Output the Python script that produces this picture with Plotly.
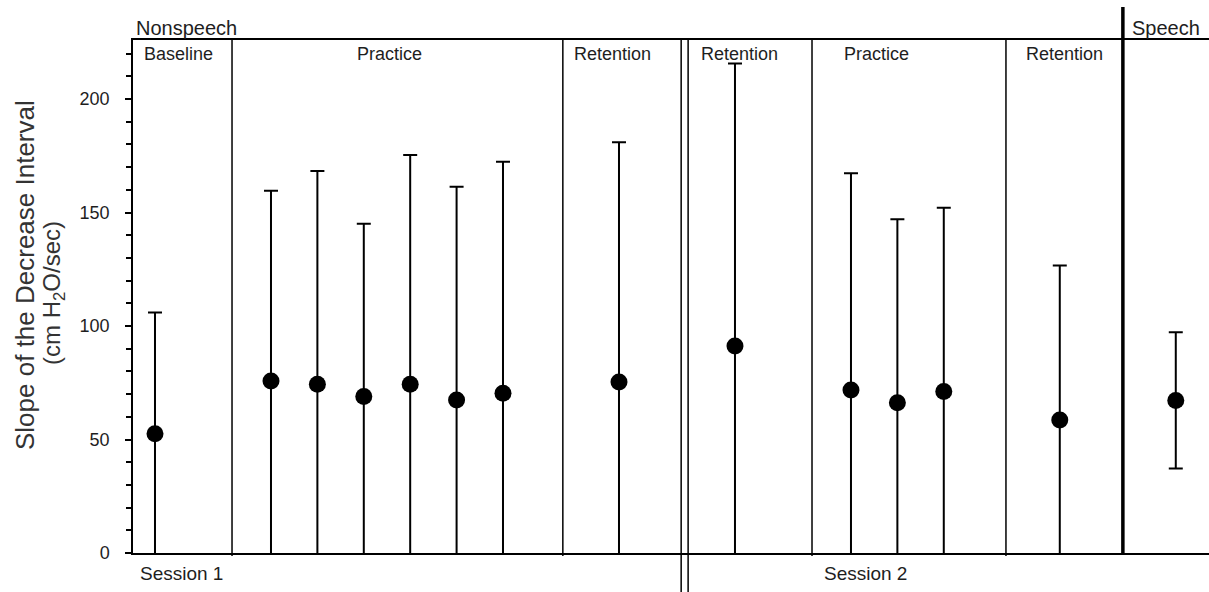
import plotly.graph_objects as go

# Mean slope of the decrease interval (cm H2O/sec) with standard deviations
conditions = [
    "Baseline",
    "Practice 1", "Practice 2", "Practice 3", "Practice 4", "Practice 5", "Practice 6",
    "Retention 1",
    "Retention 2",
    "Practice 7", "Practice 8", "Practice 9",
    "Retention 3",
    "Speech",
]
means = [52.5, 75.8, 74.3, 68.9, 74.3, 67.4, 70.4, 75.3, 91.2, 71.8, 66.2, 71.1, 58.6, 67.2]
sds = [53.5, 83.8, 94.0, 76.1, 101.0, 94.0, 102.0, 105.6, 124.5, 95.5, 80.8, 81.0, 68.1, 30.0]

# horizontal slot of each condition along the time line
slots = [0, 2.5, 3.5, 4.5, 5.5, 6.5, 7.5, 10, 12.5, 15, 16, 17, 19.5, 22]

# phase labels inside the frame and their centre slots
phase_labels = ["Baseline", "Practice", "Retention", "Retention", "Practice", "Retention"]
phase_centres = [0.5, 5.05, 9.85, 12.6, 15.55, 19.6]

# boundaries between phases
phase_breaks = [1.66, 8.79, 14.16, 18.34]
session_break = [11.34, 11.49]
speech_break = 20.86

y_ticks = [0, 50, 100, 150, 200]

W, H = 1209, 592
L, R, T, B = 133, 0, 40, 39
X_RANGE = [-0.474, 22.716]
Y_RANGE = [0, 226]
FONT = "Liberation Sans, Arial, sans-serif"
INK = "#1e1e1e"

plot_w = W - L - R
plot_h = H - T - B


def px(p):
    """paper x for a pixel column"""
    return (p - L) / plot_w


def py(p):
    """paper y for a pixel row"""
    return (H - B - p) / plot_h


fig = go.Figure()
fig.add_trace(go.Scatter(
    x=slots, y=means, mode="markers", text=conditions,
    marker=dict(size=17, color="black", line=dict(width=0)),
    error_y=dict(type="data", array=sds, symmetric=True, color="black",
                 thickness=2, width=7),
    showlegend=False, cliponaxis=True,
))

shapes = []
for xb in phase_breaks:
    shapes.append(dict(type="line", xref="x", yref="paper", x0=xb, x1=xb,
                       y0=py(556), y1=1, line=dict(color="black", width=1.5)))
for xb in session_break:
    shapes.append(dict(type="line", xref="x", yref="paper", x0=xb, x1=xb,
                       y0=py(H), y1=1, line=dict(color="black", width=1.5)))
shapes.append(dict(type="line", xref="x", yref="paper", x0=speech_break, x1=speech_break,
                   y0=0, y1=py(7), line=dict(color="black", width=3.5)))

annotations = []
for lab, xc in zip(phase_labels, phase_centres):
    annotations.append(dict(text=lab, x=xc, y=py(54), xref="x", yref="paper",
                            showarrow=False, xanchor="center", yanchor="middle",
                            font=dict(size=18, color=INK, family=FONT)))
annotations += [
    dict(text="Nonspeech", x=px(134), y=py(28), xref="paper", yref="paper",
         showarrow=False, xanchor="left", yanchor="middle",
         font=dict(size=20, color=INK, family=FONT)),
    dict(text="Speech", x=px(1130), y=py(28), xref="paper", yref="paper",
         showarrow=False, xanchor="left", yanchor="middle",
         font=dict(size=20, color=INK, family=FONT)),
    dict(text="Session 1", x=px(138), y=py(573), xref="paper", yref="paper",
         showarrow=False, xanchor="left", yanchor="middle",
         font=dict(size=19, color=INK, family=FONT)),
    dict(text="Session 2", x=px(865), y=py(573), xref="paper", yref="paper",
         showarrow=False, xanchor="center", yanchor="middle",
         font=dict(size=19, color=INK, family=FONT)),
    dict(text="Slope of the Decrease Interval", x=px(25), y=py(275),
         xref="paper", yref="paper", showarrow=False, textangle=-90,
         xanchor="center", yanchor="middle",
         font=dict(size=26, color="#333333", family=FONT)),
    dict(text="(cm H<sub>2</sub>O/sec)", x=px(53), y=py(293),
         xref="paper", yref="paper", showarrow=False, textangle=-90,
         xanchor="center", yanchor="middle",
         font=dict(size=24, color="#333333", family=FONT)),
]

fig.update_layout(
    width=W, height=H,
    margin=dict(l=L, r=R, t=T, b=B, pad=0),
    paper_bgcolor="white", plot_bgcolor="white",
    shapes=shapes, annotations=annotations,
    xaxis=dict(range=X_RANGE, showgrid=False, zeroline=False, showticklabels=False,
               ticks="", showline=True, linecolor="black", linewidth=1.5, mirror=True,
               fixedrange=True),
    yaxis=dict(range=Y_RANGE, showgrid=False, zeroline=False, tickvals=y_ticks,
               ticks="outside", ticklen=6, tickwidth=1.5, tickcolor="black",
               showline=True, linecolor="black", linewidth=1.5,
               ticklabelstandoff=12,
               tickfont=dict(size=18, color=INK, family=FONT),
               minor=dict(dtick=10, tick0=0, ticks="outside", ticklen=5,
                          tickwidth=1.5, tickcolor="black"),
               fixedrange=True),
)

fig.write_html("out.html")
